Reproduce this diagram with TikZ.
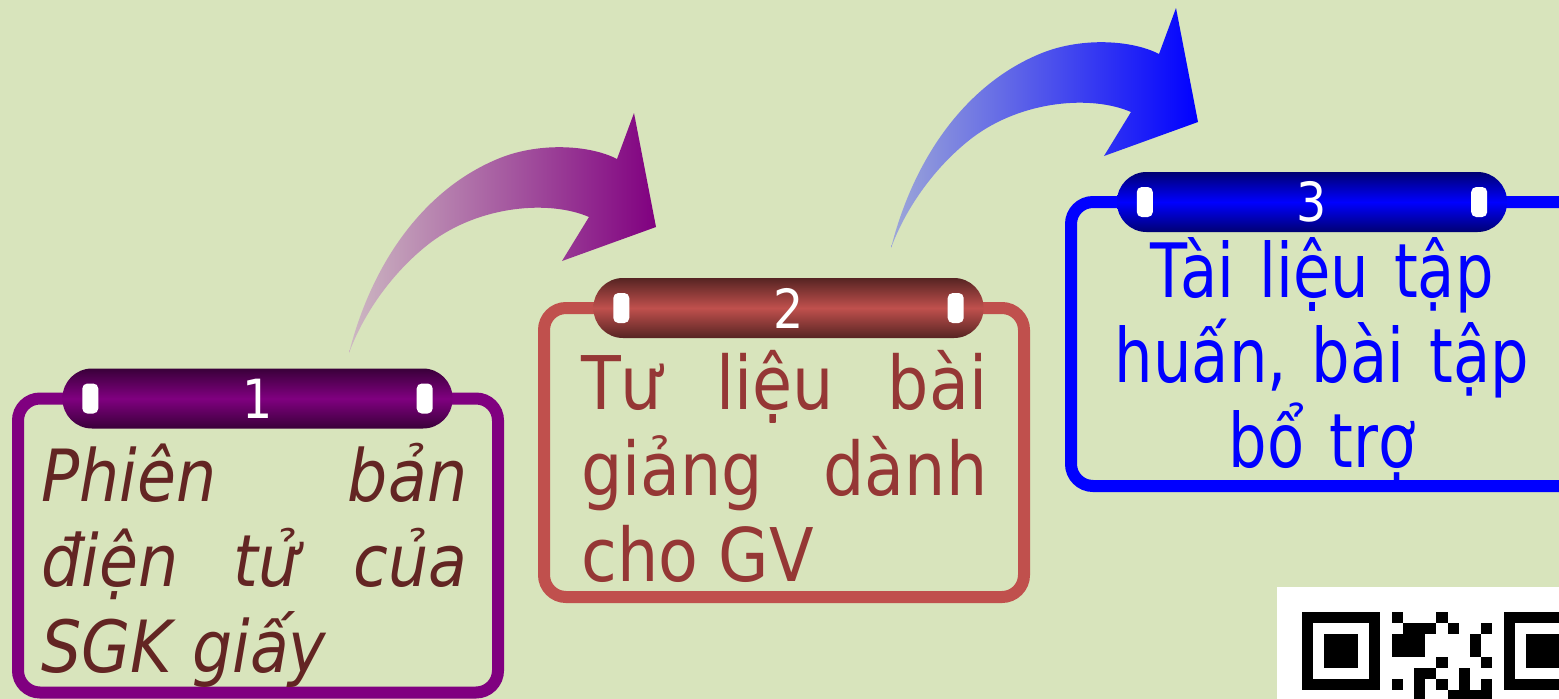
\documentclass[tikz,border=0pt]{standalone}
\usepackage{fontspec}
\setmainfont{DejaVu Sans}[FakeStretch=0.88]
\newfontfamily\narrowfont{DejaVu Sans}[FakeStretch=0.81]
\definecolor{bgolive}{HTML}{D8E4BC}
\definecolor{plum}{HTML}{800080}
\definecolor{plumpale}{HTML}{CDB8C2}
\definecolor{plumtext}{HTML}{632523}
\definecolor{brick}{HTML}{C0504D}
\definecolor{bricktext}{HTML}{953735}
\definecolor{royal}{HTML}{0000FF}
\definecolor{royalpale}{HTML}{9DA7D8}

\begin{document}
\begin{tikzpicture}[x=1pt,y=-1pt,
frame/.style={draw=#1, line width=12pt, rounded corners=22pt, inner sep=0pt, outer sep=0pt},
tab/.style={rounded corners=29.5pt, minimum width=390pt, minimum height=60pt, inner sep=0pt,
  top color=#1!45!black, bottom color=#1!45!black, middle color=#1,
  text=white, font=\fontsize{54}{60}\selectfont},
slot/.style={fill=white, rounded corners=5pt, minimum width=16pt, minimum height=30pt, inner sep=0pt},
blurb/.style={inner sep=0pt, anchor=base west, align=justify}]
\useasboundingbox (0,0) rectangle (1559,699);
\clip (0,0) rectangle (1559,699);
\fill[bgolive] (0,0) rectangle (1559,699);

% bent arrows
\foreach \dx/\dy/\pale/\deep in {0/0/plumpale/plum, 542/-105/royalpale/royal}
  \shade[shift={(\dx,\dy)}, left color=\pale, right color=\deep]
    (349,353) .. controls (372,262) and (425,188) .. (500,158)
    .. controls (540,142) and (590,145) .. (617,159)
    -- (634,113) -- (656,227) -- (562,261) -- (589,217)
    .. controls (550,200) and (480,205) .. (430,243)
    .. controls (395,270) and (365,310) .. (349,353) -- cycle;

% frames and tabs
\node[frame=plum, minimum width=480pt, minimum height=294pt] (box1) at (258,545.5) {};
\node[frame=brick, minimum width=480pt, minimum height=289pt] (box2) at (784,452.5) {};
\node[frame=royal, minimum width=520pt, minimum height=284pt] (box3) at (1331,344) {};

\node[tab=plum] (tab1) at ([xshift=-0.5pt]box1.north) {1};
\node[tab=brick] (tab2) at ([xshift=4.5pt]box2.north) {2};
\node[tab=royal] (tab3) at ([xshift=-19pt]box3.north) {3};

\foreach \t in {tab1,tab2,tab3} {
  \node[slot] (\t-l) at ([xshift=28pt]\t.west) {};
  \node[slot] (\t-r) at ([xshift=-28pt]\t.east) {};
}

% texts
\node[blurb, text width=426pt, text=plumtext,
  font=\itshape\fontsize{72}{85.5}\selectfont] (txt1) at (41,501)
  {Phiên bản\linebreak điện tử của\linebreak SGK giấy};
\node[blurb, text width=406pt, text=bricktext,
  font=\fontsize{74}{86}\selectfont] (txt2) at (581,409)
  {Tư liệu bài\linebreak giảng dành\linebreak cho GV};
\node[blurb, anchor=base, align=center, text width=460pt, text=royal,
  font=\narrowfont\fontsize{75}{85}\selectfont] (txt3) at (1322,297)
  {Tài liệu tập\\ huấn, bài tập\\ bổ trợ};

% qr code corner
\fill[white] (1277,587) rectangle (1570,710);
\foreach \qx in {1302,1503.6} {
  \fill[black] (\qx,612) rectangle +(78.4,78.4);
  \fill[white] (\qx+11.2,623.2) rectangle +(56,56);
  \fill[black] (\qx+22.4,634.4) rectangle +(33.6,33.6);
}
\foreach \c/\r in {8/0,12/0,9/1,10/1,11/1,13/1,16/1,8/2,9/2,10/2,15/2,8/3,9/3,10/3,15/3,
  12/4,16/4,10/5,11/5,14/5,8/6,10/6,12/6,14/6,16/6,10/7,13/7,14/7,15/7,16/7}
  \fill[black] (1302+11.2*\c,612+11.2*\r) rectangle +(11.2,11.2);
\end{tikzpicture}
\end{document}
